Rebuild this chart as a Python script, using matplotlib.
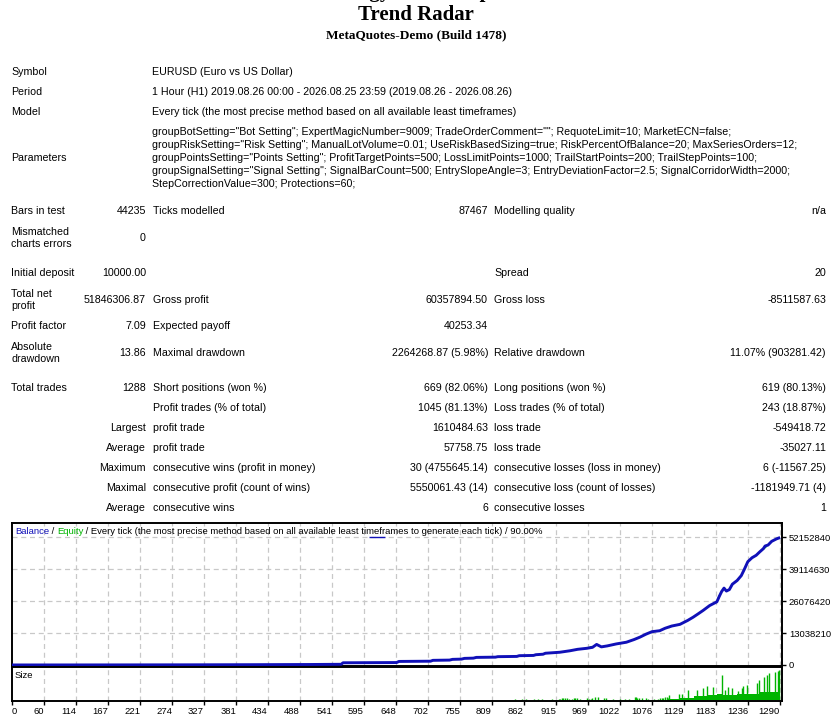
import numpy as np
import matplotlib.pyplot as plt

W, H = 839, 721

# ---- report text ----
header_rows = [
    ("Symbol", "EURUSD (Euro vs US Dollar)", 72),
    ("Period", "1 Hour (H1) 2019.08.26 00:00 - 2026.08.25 23:59 (2019.08.26 - 2026.08.26)", 92),
    ("Model", "Every tick (the most precise method based on all available least timeframes)", 112),
]
param_lines = [
    'groupBotSetting="Bot Setting"; ExpertMagicNumber=9009; TradeOrderComment=""; RequoteLimit=10; MarketECN=false;',
    'groupRiskSetting="Risk Setting"; ManualLotVolume=0.01; UseRiskBasedSizing=true; RiskPercentOfBalance=20; MaxSeriesOrders=12;',
    'groupPointsSetting="Points Setting"; ProfitTargetPoints=500; LossLimitPoints=1000; TrailStartPoints=200; TrailStepPoints=100;',
    'groupSignalSetting="Signal Setting"; SignalBarCount=500; EntrySlopeAngle=3; EntryDeviationFactor=2.5; SignalCorridorWidth=2000;',
    'StepCorrectionValue=300; Protections=60;',
]
stat_rows = [
    ("Bars in test", "44235", "Ticks modelled", "87467", "Modelling quality", "n/a", 211),
    ("Mismatched\ncharts errors", "0", "", "", "", "", 238),
    ("Initial deposit", "10000.00", "", "", "Spread", "20", 273),
    ("Total net\nprofit", "51846306.87", "Gross profit", "60357894.50", "Gross loss", "-8511587.63", 300),
    ("Profit factor", "7.09", "Expected payoff", "40253.34", "", "", 326),
    ("Absolute\ndrawdown", "13.86", "Maximal drawdown", "2264268.87 (5.98%)", "Relative drawdown", "11.07% (903281.42)", 353),
    ("Total trades", "1288", "Short positions (won %)", "669 (82.06%)", "Long positions (won %)", "619 (80.13%)", 388),
    ("", "", "Profit trades (% of total)", "1045 (81.13%)", "Loss trades (% of total)", "243 (18.87%)", 408),
    ("", "Largest", "profit trade", "1610484.63", "loss trade", "-549418.72", 428),
    ("", "Average", "profit trade", "57758.75", "loss trade", "-35027.11", 448),
    ("", "Maximum", "consecutive wins (profit in money)", "30 (4755645.14)", "consecutive losses (loss in money)", "6 (-11567.25)", 468),
    ("", "Maximal", "consecutive profit (count of wins)", "5550061.43 (14)", "consecutive loss (count of losses)", "-1181949.71 (4)", 488),
    ("", "Average", "consecutive wins", "6", "consecutive losses", "1", 508),
]

# ---- chart data ----
balance_trades = [0, 100, 200, 300, 400, 500, 553, 556, 646, 650, 703, 707, 735, 740, 755, 760,
                  775, 780, 812, 816, 848, 852, 876, 880, 892, 896, 920, 937, 950, 965, 975, 982,
                  990, 1000, 1015, 1032, 1045, 1055, 1065, 1075, 1088, 1097, 1108, 1122, 1135,
                  1144, 1152, 1161, 1172, 1184, 1188, 1192, 1196, 1200, 1205, 1210, 1218, 1225,
                  1230, 1236, 1243, 1250, 1256, 1262, 1265, 1270, 1276, 1284, 1288]
balance_mln = [0.01, 0.02, 0.04, 0.07, 0.12, 0.2, 0.28, 0.9, 1.0, 1.45, 1.55, 1.9, 2.0, 2.3, 2.4, 2.7,
               2.8, 3.1, 3.2, 3.4, 3.5, 3.8, 3.9, 4.2, 4.4, 4.8, 5.2, 5.8, 6.4, 6.8, 7.2, 8.4,
               7.4, 7.8, 8.6, 9.3, 10.4, 11.4, 12.6, 13.6, 14.0, 15.0, 15.9, 16.6, 18.2,
               19.5, 20.8, 22.3, 24.3, 25.8, 28.0, 30.0, 31.4, 30.2, 30.8, 33.0, 34.5, 36.5,
               39.0, 42.2, 43.8, 44.8, 46.2, 47.5, 48.6, 49.0, 50.5, 51.5, 51.86]
# short equity excursions visible next to the balance line
equity_trades = [[968, 973], [1104, 1108], [1186, 1189], [1263, 1267]]
equity_mln = [[6.9, 7.4], [15.4, 15.9], [27.0, 28.6], [47.6, 48.4]]

yticks = [0, 13038210, 26076420, 39114630, 52152840]
xtick_labels = ["0", "60", "114", "167", "221", "274", "327", "381", "434", "488", "541", "595",
                "648", "702", "755", "809", "862", "915", "969", "1022", "1076", "1129", "1183",
                "1236", "1290"]

size_trades = [845, 856, 863, 876, 883, 891, 907, 918, 921, 924, 926, 929, 932, 935, 940, 944, 946,
               949, 954, 966, 970, 972, 975, 979, 985, 994, 998, 1010, 1021, 1030, 1037, 1047, 1048,
               1050, 1054, 1059, 1065, 1069, 1078, 1085, 1089, 1091, 1094, 1097, 1100, 1102, 1104,
               1121, 1125, 1136, 1150, 1160, 1167, 1178, 1192, 1198, 1203, 1209, 1220, 1226, 1228,
               1235, 1251, 1255, 1263, 1268, 1272, 1282, 1286, 1289]
size_lots = [1, 1, 1, 1, 1, 1.3, 1.5, 1.3, 1.7, 2, 2, 2.3, 2.3, 1.7, 1.3, 2.3, 2.3,
             2, 1.7, 2, 1.5, 1.7, 2, 3, 3.7, 2.3, 2.3, 1, 1, 1.7, 1.7, 3, 3.7,
             2.3, 2, 2.3, 2, 1.7, 1, 1.7, 2, 2.7, 2, 3.3, 3, 2.3, 5.3,
             6.7, 6.7, 10, 10, 12.7, 14, 13.3, 25.3, 10, 13.3, 12.7, 9, 12, 14.3,
             15.3, 17.7, 20, 23.3, 25.3, 27, 28.7, 29.3, 30]
base_trades = [1105, 1120, 1133, 1145, 1167, 1184, 1192, 1201, 1218, 1228, 1245, 1257, 1273, 1290]
base_lots = [1.3, 1.3, 2, 2.7, 4, 5.3, 6.7, 5.3, 5.3, 6, 6, 6.7, 8, 8.3]

BLUE = "#1010B8"
GREEN = "#00B400"
GRID = "#C8C8C8"
FONT = "Liberation Sans"
FS = 7.65      # report table
CFS = 6.8      # chart texts

fig = plt.figure(figsize=(W / 100, H / 100), dpi=100)
fig.patch.set_facecolor("white")


def px(x, y):
    return x / W, 1 - y / H


def put(x, y, s, **kw):
    kw.setdefault("fontsize", FS)
    kw.setdefault("family", FONT)
    kw.setdefault("va", "center")
    return fig.text(*px(x, y), s, **kw)


# title block (first line is cut by the top edge, as in the report)
put(416, -8, "Strategy Tester Report", ha="center", fontsize=15, family="Liberation Serif", weight="bold")
put(416, 15, "Trend Radar", ha="center", fontsize=15, family="Liberation Serif", weight="bold")
put(416, 35, "MetaQuotes-Demo (Build 1478)", ha="center", fontsize=9.5, family="Liberation Serif", weight="bold")

for lab, val, y in header_rows:
    put(11, y, lab)
    put(152, y, val)
put(11, 158, "Parameters")
for i, line in enumerate(param_lines):
    put(152, 132 + 13 * i, line)

for l1, v1, l2, v2, l3, v3, y in stat_rows:
    put(11, y, l1, linespacing=1.2)
    put(146, y, v1, ha="right")
    put(153, y, l2)
    put(488, y, v2, ha="right")
    put(494, y, l3)
    put(826, y, v3, ha="right")

# ---- balance panel ----
ax = fig.add_axes([12 / W, 1 - 665.7 / H, 770 / W, 143.2 / H])
ax2 = fig.add_axes([12 / W, 1 - 701 / H, 770 / W, 33.7 / H])

xpos = np.linspace(0, 1290, len(xtick_labels))
for a in (ax, ax2):
    a.set_xlim(0, 1293.4)
    for s in a.spines.values():
        s.set_linewidth(1.4)
        s.set_color("black")
    for xp in xpos[1:]:
        a.axvline(xp, color=GRID, lw=0.9, ls=(0, (4, 3)), zorder=0)

ax.set_ylim(-0.29e6, 58.2e6)
for yt in yticks[1:]:
    ax.axhline(yt, color=GRID, lw=0.9, ls=(0, (4, 3)), zorder=0)

for tx, ty in zip(equity_trades, equity_mln):
    ax.plot(tx, np.array(ty) * 1e6, color=GREEN, lw=1.2, zorder=2)
ax.plot(balance_trades, np.array(balance_mln) * 1e6, color=BLUE, lw=2.1, zorder=3)
ax.hlines(yticks[-1], 600, 627, color=BLUE, lw=1.0, zorder=3)

ax.set_xticks([])
ax.yaxis.tick_right()
ax.set_yticks(yticks)
ax.set_yticklabels([str(v) for v in yticks], fontsize=CFS, family=FONT)
ax.tick_params(axis="y", length=3, width=1, pad=2)

# legend-like caption inside the chart
fig.canvas.draw()
r = fig.canvas.get_renderer()
parts = [("Balance", BLUE), (" / ", "black"), ("Equity", GREEN),
         (" / Every tick (the most precise method based on all available least timeframes to generate each tick) / 90.00%", "black")]
xc = 15
for s, c in parts:
    t = put(xc, 531, s, color=c, fontsize=CFS)
    bb = t.get_window_extent(r)
    xc += bb.width

# ---- size panel ----
ax2.set_ylim(-0.7, 33)
ax2.fill_between(base_trades, 0, base_lots, step="pre", color=GREEN, lw=0, zorder=2)
ax2.vlines(size_trades, 0, size_lots, color=GREEN, lw=1.0, zorder=2)
ax2.set_yticks([])
ax2.set_xticks(xpos)
ax2.set_xticklabels(xtick_labels, fontsize=CFS, family=FONT)
ax2.tick_params(axis="x", length=3, width=1, pad=1.5)
for i, lab in enumerate(ax2.get_xticklabels()):
    lab.set_ha("left" if i == 0 else "right")
ax2.text(3 / 770, 0.75, "Size", transform=ax2.transAxes, fontsize=CFS, family=FONT, va="center")

fig.savefig("out.png", dpi=100)
